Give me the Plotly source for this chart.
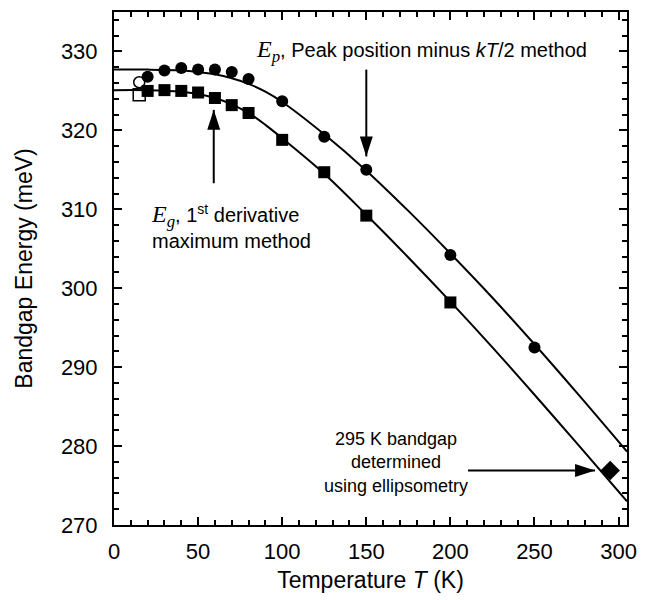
import plotly.graph_objects as go

# ---- data ----
ep_T = [20, 30, 40, 50, 60, 70, 80, 100, 125, 150, 200, 250]
ep_E = [326.8, 327.6, 327.9, 327.7, 327.7, 327.4, 326.5, 323.7, 319.2, 315.0, 304.2, 292.5]
ep_open_T = [15]
ep_open_E = [326.1]

eg_T = [20, 30, 40, 50, 60, 70, 80, 100, 125, 150, 200]
eg_E = [325.0, 325.1, 325.0, 324.8, 324.1, 323.2, 322.2, 318.8, 314.7, 309.2, 298.2]
eg_open_T = [15]
eg_open_E = [324.5]

ellip_T = [295]
ellip_E = [276.9]

fit_T = [0, 20, 40, 50, 60, 70, 80, 90, 100, 125, 150, 175, 200, 225, 250, 275, 305]
fit_ep = [327.7, 327.7, 327.6, 327.4, 327.1, 326.6, 325.9, 324.9, 323.6, 319.5, 314.9, 309.8, 304.4, 298.8, 292.9, 286.8, 279.3]
fit_eg = [325.1, 325.1, 324.9, 324.6, 324.1, 323.3, 322.2, 320.7, 319.0, 314.5, 309.3, 303.9, 298.3, 292.5, 286.5, 280.4, 273.0]

x_ticks = [0, 50, 100, 150, 200, 250, 300]
y_ticks = [270, 280, 290, 300, 310, 320, 330]

# annotation arrows (tail -> tip, in data units) and head direction
arrow_tail_x = [150, 59.3, 210.5]
arrow_tail_y = [327.7, 313.3, 276.9]
arrow_tip_x = [150, 59.3, 286]
arrow_tip_y = [316.7, 322.6, 276.9]
arrow_angle = [180, 0, 90]

FONT = "Liberation Sans, Arial, sans-serif"
SERIF = "Liberation Serif, Times New Roman, serif"

fig = go.Figure()
for ys in (fit_ep, fit_eg):
    fig.add_trace(go.Scatter(x=fit_T, y=ys, mode="lines", line=dict(color="black", width=2, shape="spline"),
                             hoverinfo="skip", showlegend=False))

fig.add_trace(go.Scatter(x=ep_T, y=ep_E, mode="markers",
                         marker=dict(symbol="circle", size=12, color="black"), showlegend=False))
fig.add_trace(go.Scatter(x=ep_open_T, y=ep_open_E, mode="markers",
                         marker=dict(symbol="circle-open", size=11, color="black", line=dict(width=1.5)), showlegend=False))
fig.add_trace(go.Scatter(x=eg_T, y=eg_E, mode="markers",
                         marker=dict(symbol="square", size=12, color="black"), showlegend=False))
fig.add_trace(go.Scatter(x=eg_open_T, y=eg_open_E, mode="markers",
                         marker=dict(symbol="square-open", size=12, color="black", line=dict(width=1.5)), showlegend=False))
fig.add_trace(go.Scatter(x=ellip_T, y=ellip_E, mode="markers",
                         marker=dict(symbol="diamond", size=15, color="black"), showlegend=False))

# arrows: shaft lines + narrow filled heads
for tx, ty, hx, hy in zip(arrow_tail_x, arrow_tail_y, arrow_tip_x, arrow_tip_y):
    fig.add_trace(go.Scatter(x=[tx, hx], y=[ty, hy], mode="lines", line=dict(color="black", width=2),
                             hoverinfo="skip", showlegend=False))
fig.add_trace(go.Scatter(x=arrow_tip_x, y=arrow_tip_y, mode="markers", hoverinfo="skip", showlegend=False,
                         marker=dict(symbol="arrow", size=21, angle=arrow_angle, color="black",
                                     line=dict(width=0))))

# text annotations
fig.add_annotation(x=83.5, y=330.1, xref="x", yref="y", xanchor="left", yanchor="middle", showarrow=False,
                   text=f"<span style='font-family:{SERIF};font-size:24px'><i>E<sub>p</sub></i></span>, Peak position minus <i>kT</i>/2 method",
                   font=dict(family=FONT, size=20, color="black"))
fig.add_annotation(x=21, y=307.8, xref="x", yref="y", xanchor="left", yanchor="middle", showarrow=False, align="left",
                   text=f"<span style='font-family:{SERIF};font-size:24px'><i>E<sub>g</sub></i></span>, 1<sup>st</sup> derivative<br>maximum method",
                   font=dict(family=FONT, size=20, color="black"))
fig.add_annotation(x=167.5, y=277.9, xref="x", yref="y", xanchor="center", yanchor="middle", showarrow=False, align="center",
                   text="295 K bandgap<br>determined<br>using ellipsometry",
                   font=dict(family=FONT, size=18, color="black"))

axis_common = dict(showline=True, linecolor="black", linewidth=2, mirror="allticks", ticks="inside",
                   ticklen=8, tickwidth=2, tickcolor="black", showgrid=False, zeroline=False,
                   tickfont=dict(family=FONT, size=22, color="black"))
fig.update_xaxes(range=[0, 305], tickvals=x_ticks, ticktext=[str(v) for v in x_ticks], ticklabelstandoff=6,
                 minor=dict(ticks="inside", ticklen=5, tickwidth=1.5, tickcolor="black", dtick=10, tick0=0),
                 title=dict(text="Temperature <i>T</i> (K)", font=dict(family=FONT, size=23, color="black"), standoff=8),
                 **axis_common)
fig.update_yaxes(range=[270, 335], tickvals=y_ticks, ticktext=[str(v) for v in y_ticks], ticklabelstandoff=10,
                 minor=dict(ticks="inside", ticklen=5, tickwidth=1.5, tickcolor="black", dtick=2, tick0=270),
                 title=dict(text="Bandgap Energy (meV)", font=dict(family=FONT, size=23, color="black"), standoff=22),
                 **axis_common)

fig.update_layout(width=647, height=600, margin=dict(l=114, r=13, t=10, b=75),
                  plot_bgcolor="white", paper_bgcolor="white", showlegend=False)

fig.write_html("out.html")
